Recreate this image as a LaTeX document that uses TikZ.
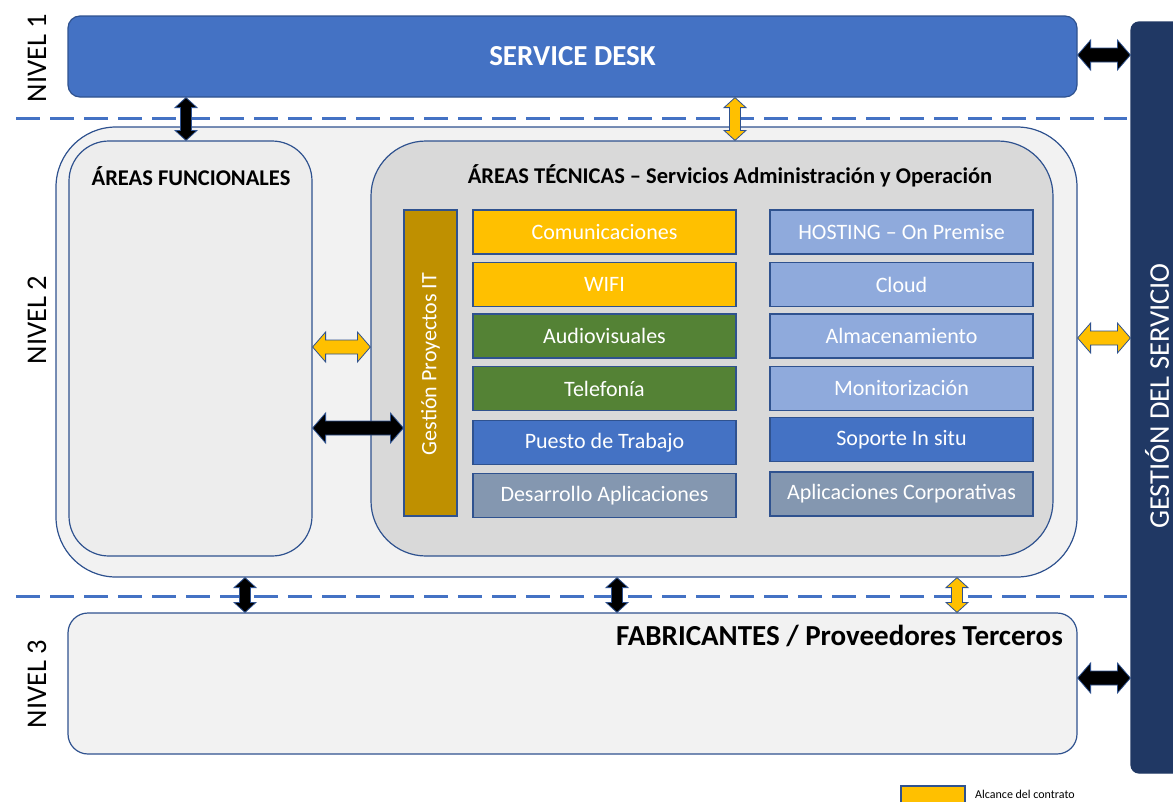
\documentclass[tikz,border=0pt]{standalone}
\usepackage{fontspec}
\setmainfont{Carlito}
\usepackage{tikz}
\usetikzlibrary{calc}
\definecolor{sdblue}{HTML}{4472C4}
\definecolor{edge}{HTML}{2F528F}
\definecolor{lightblue}{HTML}{8FAADC}
\definecolor{gold}{HTML}{FFC000}
\definecolor{grass}{HTML}{548235}
\definecolor{slate}{HTML}{8497B0}
\definecolor{ochre}{HTML}{BF9000}
\definecolor{navy}{HTML}{203864}
\tikzstyle{panel} = [draw=edge, line width=1.2pt, inner sep=0pt]
\tikzstyle{tile} = [draw=edge, line width=1.2pt, minimum width=263pt, minimum height=44pt, inner sep=0pt, text=white, font=\fontsize{22}{25}\selectfont]
\tikzstyle{heading} = [font=\bfseries\fontsize{22.5}{26}\selectfont]
\tikzstyle{level} = [rotate=90, font=\fontsize{28.5}{32}\selectfont]
\tikzstyle{sep} = [sdblue, line width=3pt, dash pattern=on 24pt off 10pt]
\tikzstyle{blockarrow} = [draw=edge, line width=0.8pt, line join=miter]
% double block arrows, top->bottom and left->right
\newcommand{\vbiarrow}[3]{%
  \draw[blockarrow, fill=#1] let \p1=#2, \p2=#3 in
    (\x1,\y1) -- (\x1+11pt,\y1-10pt) -- (\x1+5.5pt,\y1-10pt) -- (\x1+5.5pt,\y2+10pt)
    -- (\x1+11pt,\y2+10pt) -- (\x1,\y2) -- (\x1-11pt,\y2+10pt) -- (\x1-5.5pt,\y2+10pt)
    -- (\x1-5.5pt,\y1-10pt) -- (\x1-11pt,\y1-10pt) -- cycle;}
\newcommand{\hbiarrow}[3]{%
  \draw[blockarrow, fill=#1] let \p1=#2, \p2=#3 in
    (\x1,\y1) -- (\x1+13pt,\y1+15pt) -- (\x1+13pt,\y1+7pt) -- (\x2-13pt,\y1+7pt)
    -- (\x2-13pt,\y1+15pt) -- (\x2,\y1) -- (\x2-13pt,\y1-15pt) -- (\x2-13pt,\y1-7pt)
    -- (\x1+13pt,\y1-7pt) -- (\x1+13pt,\y1-15pt) -- cycle;}

\begin{document}
\begin{tikzpicture}[x=1pt, y=-1pt]
\useasboundingbox (0,0) rectangle (1173,801);

%levels
\node[level] (l1) at (37,58) {NIVEL 1};
\node[level] (l2) at (37,320) {NIVEL 2};
\node[level] (l3) at (37,684) {NIVEL 3};

%service desk
\node[panel, fill=sdblue, rounded corners=12pt, minimum width=1009pt, minimum height=81pt,
  text=white, font=\bfseries\fontsize{29}{32}\selectfont] (sd) at (572.5,56.5) {SERVICE DESK};

%gestion del servicio
\node[panel, fill=navy, draw=navy, rounded corners=8pt, minimum width=59pt, minimum height=751pt] (gs) at (1160.5,397.5) {};
\node[level, text=white, inner sep=0pt] (gst) at (1157,396) {GESTIÓN DEL SERVICIO};

%separators
\draw[sep] (16,118) -- (1127,118);
\draw[sep] (16,596) -- (1127,596);

%nivel 2
\node[panel, fill=black!5, rounded corners=60pt, minimum width=1021pt, minimum height=450pt] (n2) at (566.5,352) {};
\node[panel, fill=black!7, rounded corners=40pt, minimum width=243pt, minimum height=415pt] (fun) at (190.5,348.5) {};
\node[heading] (funt) at (191,176) {ÁREAS FUNCIONALES};
\node[panel, fill=black!15, rounded corners=55pt, minimum width=682pt, minimum height=415pt] (tec) at (712,348.5) {};
\node[heading] (tect) at (730,176) {ÁREAS TÉCNICAS -- Servicios Administración y Operación};

\node[panel, fill=ochre, minimum width=53pt, minimum height=306pt] (gp) at (430.5,363) {};
\node[rotate=90, text=white, font=\fontsize{22}{25}\selectfont] (gpt) at (430.5,364) {Gestión Proyectos IT};

\node[tile, fill=gold] (com) at (604.5,232) {Comunicaciones};
\node[tile, fill=gold] (wifi) at (604.5,284.5) {WIFI};
\node[tile, fill=grass] (av) at (604.5,336) {Audiovisuales};
\node[tile, fill=grass] (tel) at (604.5,388.5) {Telefonía};
\node[tile, fill=sdblue] (pt) at (604.5,442.5) {Puesto de Trabajo};
\node[tile, fill=slate] (da) at (604.5,495.5) {Desarrollo Aplicaciones};

\node[tile, fill=lightblue] (host) at (901.5,232) {HOSTING -- On Premise};
\node[tile, fill=lightblue] (cloud) at (901.5,284.5) {Cloud};
\node[tile, fill=lightblue] (alm) at (901.5,336) {Almacenamiento};
\node[tile, fill=lightblue] (mon) at (901.5,388.5) {Monitorización};
\node[tile, fill=sdblue] (sop) at (901.5,439.5) {Soporte In situ};
\node[tile, fill=slate] (apc) at (901.5,494) {Aplicaciones Corporativas};

%nivel 3
\node[panel, fill=black!5, rounded corners=20pt, minimum width=1009pt, minimum height=141pt] (fab) at (572.5,683.5) {};
\node[font=\bfseries\fontsize{29}{32}\selectfont] (fabt) at (839.5,636) {FABRICANTES / Proveedores Terceros};

%arrows
\vbiarrow{black}{(186,0 |- sd.south)}{(186,0 |- fun.north)}
\vbiarrow{gold}{(735,0 |- sd.south)}{(735,0 |- tec.north)}
\vbiarrow{black}{(245,0 |- n2.south)}{(245,0 |- fab.north)}
\vbiarrow{black}{(617,0 |- n2.south)}{(617,0 |- fab.north)}
\vbiarrow{gold}{(957,0 |- n2.south)}{(957,0 |- fab.north)}
\hbiarrow{black}{(sd.east |- 0,55)}{(gs.west |- 0,55)}
\hbiarrow{gold}{(n2.east |- 0,338)}{(gs.west |- 0,338)}
\hbiarrow{black}{(fab.east |- 0,678)}{(gs.west |- 0,678)}
\hbiarrow{gold}{(fun.east |- 0,347)}{(tec.west |- 0,347)}
\hbiarrow{black}{(fun.east |- 0,428)}{(gp.west |- 0,428)}

%legend
\node[panel, fill=gold, minimum width=64pt, minimum height=24pt] (leg) at (933,798) {};
\node[anchor=west, inner sep=0pt, font=\fontsize{12}{14}\selectfont] (legt) at (975,794) {Alcance del contrato};
\end{tikzpicture}
\end{document}
